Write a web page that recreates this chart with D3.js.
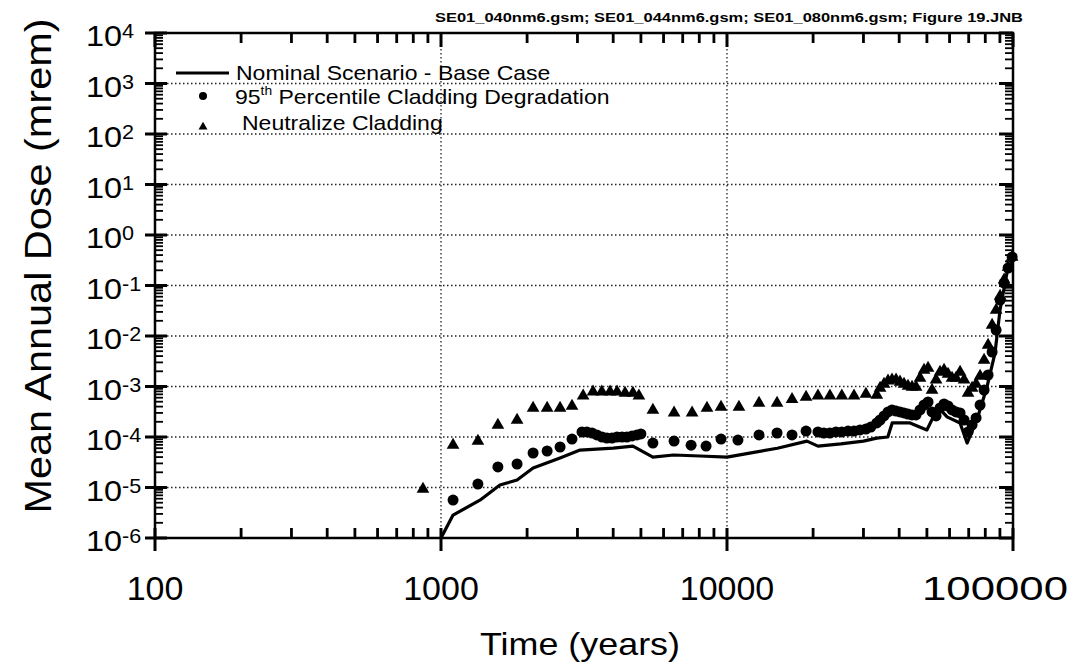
<!DOCTYPE html>
<html><head><meta charset="utf-8">
<script src="https://cdn.jsdelivr.net/npm/d3@7"></script>
<style>body{margin:0;background:#fff}svg{display:block}</style>
</head><body>
<svg id="c" width="1077" height="663"></svg>
<script>
// ---------- data ----------
const xTickValues = [100, 1000, 10000, 100000];
const yExponents = [4, 3, 2, 1, 0, -1, -2, -3, -4, -5, -6];
const fileNote = "SE01_040nm6.gsm; SE01_044nm6.gsm; SE01_080nm6.gsm; Figure 19.JNB";
const xTitle = "Time (years)";
const yTitle = "Mean Annual Dose (mrem)";
const legendNames = ["Nominal Scenario - Base Case", "Percentile Cladding Degradation", "Neutralize Cladding"];

const nominalTime = [1000, 1102, 1368, 1607, 1845, 2099, 2608, 3063, 4000, 4688,
  5507, 6500, 8050, 10000, 12000, 15000, 19040, 20800, 25000, 30000,
  33400, 36500, 37800, 43650, 50000, 54700, 58800, 65300, 69100, 74800,
  81100, 86500, 90100, 95300, 100000];
const nominalDose = [1e-6, 2.85e-6, 5.6e-6, 1.12e-5, 1.41e-5, 2.43e-5, 3.84e-5, 5.5e-5, 6.0e-5, 6.6e-5,
  4.0e-5, 4.4e-5, 4.2e-5, 4.0e-5, 4.8e-5, 6.0e-5, 8.3e-5, 6.6e-5, 7.3e-5, 8.3e-5,
  9.5e-5, 1.0e-4, 1.9e-4, 1.9e-4, 1.38e-4, 3.9e-4, 2.5e-4, 1.9e-4, 7.6e-5, 2.2e-4,
  9.8e-4, 4.6e-3, 3.3e-2, 0.18, 0.32];

const p95Time = [1102, 1346, 1581, 1845, 2099, 2350, 2608, 2871,
  3112, 3236, 3373, 3507, 3656, 3802, 3963, 4125, 4295, 4467, 4656, 4843, 5000,
  5507, 6530, 7490, 8450, 9530, 10920, 12940, 14960, 16880, 18900,
  20800, 21800, 22900, 24040, 25200, 26500, 27800, 29170, 30600, 31820, 33400,
  34300, 35400, 36560, 37760, 39000, 40270, 41590, 42950, 44360, 45810,
  47310, 48860, 50460, 52110, 53820, 55580, 57400, 59280, 61220, 63230,
  65300, 67440, 69650, 71930, 74290, 76720, 79240, 81830, 84510, 87280,
  90140, 93090, 96140, 99290];
const p95Dose = [5.65e-6, 1.17e-5, 2.55e-5, 2.92e-5, 4.82e-5, 5.28e-5, 6.34e-5, 9.1e-5,
  1.26e-4, 1.26e-4, 1.2e-4, 1.1e-4, 1.0e-4, 9.55e-5, 9.55e-5, 1.0e-4, 1.0e-4, 1.0e-4, 1.05e-4, 1.1e-4, 1.15e-4,
  7.6e-5, 8.3e-5, 6.9e-5, 6.6e-5, 9.1e-5, 8.7e-5, 1.1e-4, 1.2e-4, 1.1e-4, 1.31e-4,
  1.26e-4, 1.2e-4, 1.2e-4, 1.26e-4, 1.26e-4, 1.31e-4, 1.31e-4, 1.38e-4, 1.44e-4, 1.57e-4, 1.9e-4,
  2.17e-4, 2.61e-4, 3.13e-4, 3.43e-4, 3.27e-4, 3.13e-4, 2.99e-4, 2.85e-4, 2.73e-4, 2.73e-4,
  3.43e-4, 4.3e-4, 4.93e-4, 3.13e-4, 2.61e-4, 3.75e-4, 4.5e-4, 4.11e-4, 3.43e-4, 3.13e-4,
  2.99e-4, 2.17e-4, 1.26e-4, 1.73e-4, 2.38e-4, 4.3e-4, 8.53e-4, 1.69e-3, 4.82e-3, 1.31e-2,
  5.16e-2, 0.112, 0.222, 0.367];

const neutTime = [865, 1102, 1346, 1581, 1845, 2099, 2350, 2608, 2871,
  3140, 3400, 3650, 3900, 4125, 4400, 4690, 4920,
  5507, 6530, 7550, 8510, 9530, 11010, 12940, 14960, 16880, 18900,
  20800, 22900, 25200, 27800, 30600, 33400,
  34300, 35400, 36560, 37760, 39000, 40270, 41590, 42950, 44360, 45810,
  47310, 48860, 50460, 52110, 53820, 55580, 57400, 59280, 61220, 63230,
  65300, 67440, 69650, 71930, 74290, 76720, 79240, 81830, 84510, 87280,
  90140, 93090, 96140, 99290];
const neutDose = [9.3e-6, 6.9e-5, 8.3e-5, 1.73e-4, 2.17e-4, 3.75e-4, 3.75e-4, 3.75e-4, 4.1e-4,
  6.5e-4, 7.8e-4, 7.8e-4, 7.8e-4, 7.8e-4, 7.4e-4, 7.4e-4, 6.5e-4,
  3.4e-4, 3.0e-4, 3.0e-4, 3.75e-4, 3.9e-4, 3.9e-4, 4.7e-4, 4.7e-4, 5.6e-4, 6.2e-4,
  6.5e-4, 6.5e-4, 6.5e-4, 6.5e-4, 7.1e-4, 6.8e-4,
  9.33e-4, 1.12e-3, 1.29e-3, 1.35e-3, 1.35e-3, 1.23e-3, 1.12e-3, 1.02e-3, 9.77e-4, 9.77e-4,
  1.47e-3, 2.12e-3, 2.32e-3, 8.53e-4, 1.35e-3, 1.94e-3, 2.12e-3, 1.77e-3, 1.47e-3, 1.47e-3,
  1.94e-3, 1.35e-3, 7.43e-4, 9.33e-4, 1.12e-3, 1.61e-3, 3.35e-3, 6.63e-3, 1.65e-2, 3.27e-2,
  6.2e-2, 0.129, 0.232, 0.367];

// ---------- chart ----------
const L = 155, R = 1013, T = 33, B = 538;
const x = d3.scaleLog().domain([100, 100000]).range([L, R]);
const y = d3.scaleLog().domain([1e-6, 1e4]).range([B, T]);
const svg = d3.select("#c");
const FONT = "'Liberation Sans', Arial, Helvetica, sans-serif";

// minor tick values (2..9 within each decade)
const minorX = [];
const minorY = [];
[100, 1000, 10000].forEach(d => { for (let k = 2; k <= 9; k++) minorX.push(d * k); });
for (let e = -6; e <= 3; e++) { for (let k = 2; k <= 9; k++) minorY.push(k * Math.pow(10, e)); }

// gridlines (dotted)
const grid = svg.append("g").attr("stroke", "#222").attr("stroke-width", 1.3).attr("stroke-dasharray", "1.5,2.5");
yExponents.filter(e => e < 4 && e > -6).forEach(e => {
  const v = Math.pow(10, e);
  grid.append("line").attr("x1", L).attr("x2", R).attr("y1", y(v)).attr("y2", y(v));
});
xTickValues.filter(v => v > 100 && v < 100000).forEach(v => {
  grid.append("line").attr("x1", x(v)).attr("x2", x(v)).attr("y1", T).attr("y2", B);
});

// frame
svg.append("rect").attr("x", L).attr("y", T).attr("width", R - L).attr("height", B - T)
  .attr("fill", "none").attr("stroke", "#000").attr("stroke-width", 2.5);

// minor ticks (inward), drawn as small filled rects
const ticks = svg.append("g").attr("fill", "#000");
minorX.forEach(v => {
  const px = x(v);
  ticks.append("rect").attr("x", px - 1.4).attr("y", B - 10).attr("width", 2.8).attr("height", 10);
  ticks.append("rect").attr("x", px - 1.4).attr("y", T).attr("width", 2.8).attr("height", 10);
});
minorY.forEach(v => {
  const py = y(v);
  ticks.append("rect").attr("x", L).attr("y", py - 0.9).attr("width", 8).attr("height", 1.8);
  ticks.append("rect").attr("x", R - 8).attr("y", py - 0.9).attr("width", 8).attr("height", 1.8);
});
// major ticks
xTickValues.forEach(v => {
  const px = x(v);
  ticks.append("rect").attr("x", px - 1.5).attr("y", B - 10).attr("width", 3).attr("height", 23);
  ticks.append("rect").attr("x", px - 1.5).attr("y", T).attr("width", 3).attr("height", 14);
});
yExponents.forEach(e => {
  const py = y(Math.pow(10, e));
  ticks.append("rect").attr("x", L - 10).attr("y", py - 1.5).attr("width", 22).attr("height", 3);
  ticks.append("rect").attr("x", R - 14).attr("y", py - 1.5).attr("width", 14).attr("height", 3);
});

// x tick labels
xTickValues.forEach((v, i) => {
  const last = i === xTickValues.length - 1;
  const t = svg.append("text").attr("x", last ? 1068 : x(v)).attr("y", 600)
    .attr("text-anchor", last ? "end" : "middle")
    .attr("font-family", FONT).attr("font-size", 34).attr("fill", "#000")
    .text(d3.format("d")(v));
  if (last) t.attr("textLength", 146).attr("lengthAdjust", "spacingAndGlyphs");
});

// y tick labels 10^e
yExponents.forEach(e => {
  const v = Math.pow(10, e);
  const t = svg.append("text").attr("transform", `translate(86,${y(v) + 13}) scale(1.08,1)`)
    .attr("font-family", FONT).attr("font-size", 30).attr("fill", "#000");
  t.append("tspan").text("10");
  t.append("tspan").attr("font-size", 20).attr("dy", -8).text(e < 0 ? "-" + Math.abs(e) : String(e));
});

// axis titles
svg.append("text").attr("x", 580).attr("y", 655).attr("text-anchor", "middle")
  .attr("font-family", FONT).attr("font-size", 32).attr("textLength", 200).attr("lengthAdjust", "spacingAndGlyphs")
  .text(xTitle);
svg.append("text").attr("transform", `translate(51,${266}) rotate(-90)`).attr("text-anchor", "middle")
  .attr("font-family", FONT).attr("font-size", 36).attr("textLength", 495).attr("lengthAdjust", "spacingAndGlyphs")
  .text(yTitle);

// file note
svg.append("text").attr("x", 1023).attr("y", 22).attr("text-anchor", "end")
  .attr("font-family", FONT).attr("font-weight", "bold").attr("font-size", 13)
  .attr("textLength", 588).attr("lengthAdjust", "spacingAndGlyphs").text(fileNote);

// data
const plot = svg.append("g");
const line = d3.line().x(d => x(d[0])).y(d => y(d[1]));
plot.append("path").datum(nominalTime.map((t, i) => [t, nominalDose[i]]))
  .attr("d", line).attr("fill", "none").attr("stroke", "#000").attr("stroke-width", 3.2)
  .attr("stroke-linejoin", "round");
plot.selectAll("circle.p95").data(p95Time.map((t, i) => [t, p95Dose[i]])).join("circle")
  .attr("class", "p95").attr("cx", d => x(d[0])).attr("cy", d => y(d[1])).attr("r", 5.5).attr("fill", "#000");
const tri = d3.symbol().type(d3.symbolTriangle).size(70);
plot.selectAll("path.neut").data(neutTime.map((t, i) => [t, neutDose[i]])).join("path")
  .attr("class", "neut").attr("d", tri)
  .attr("transform", d => `translate(${x(d[0])},${y(d[1])})`).attr("fill", "#000");

// legend
const lg = svg.append("g").attr("font-family", FONT).attr("font-size", 20).attr("fill", "#000");
lg.append("line").attr("x1", 176).attr("x2", 229).attr("y1", 73).attr("y2", 73).attr("stroke", "#000").attr("stroke-width", 3);
lg.append("text").attr("transform", "translate(236,80) scale(1.15,1)").text(legendNames[0]);
lg.append("circle").attr("cx", 203).attr("cy", 96).attr("r", 4).attr("fill", "#000");
const t2 = lg.append("text").attr("transform", "translate(235,104) scale(1.15,1)");
t2.append("tspan").text("95");
t2.append("tspan").attr("font-size", 12).attr("dy", -9).text("th");
t2.append("tspan").attr("dy", 9).text(" " + legendNames[1]);
lg.append("path").attr("d", d3.symbol().type(d3.symbolTriangle).size(35))
  .attr("transform", "translate(203,127)").attr("fill", "#000");
lg.append("text").attr("transform", "translate(242,130) scale(1.15,1)").text(legendNames[2]);
</script>
</body></html>
